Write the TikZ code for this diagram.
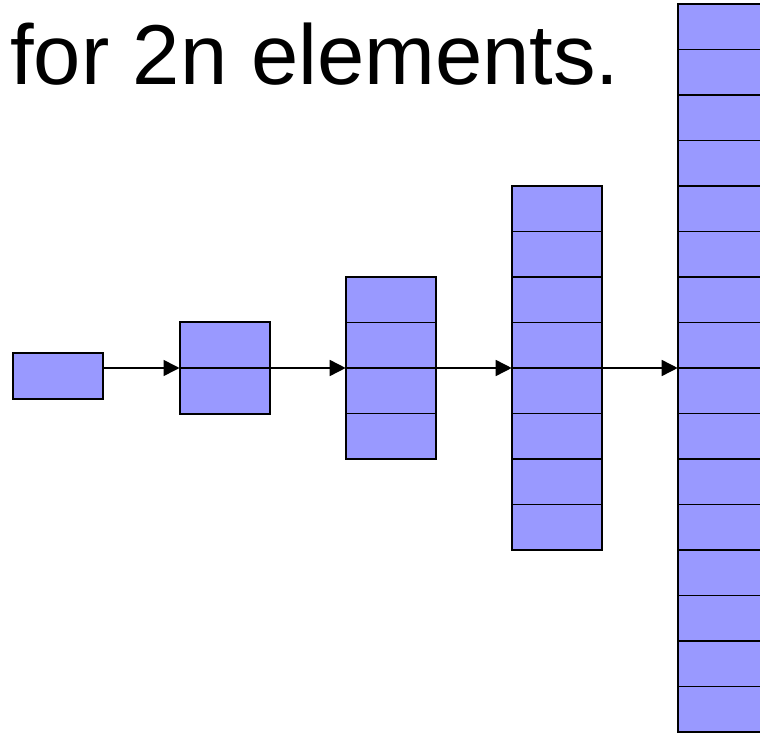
\documentclass[tikz,border=0pt]{standalone}
\usepackage{fontspec}
\setmainfont{Liberation Sans}
\usetikzlibrary{arrows.meta,calc}
\definecolor{cellblue}{RGB}{153,153,255}

\tikzset{
  cellbox/.style={draw, line width=2pt, fill=cellblue, minimum width=90.6pt, inner sep=0pt, outer sep=0pt},
  cellline/.style={line width=1.8pt},
  growarrow/.style={-{Triangle[length=16pt,width=16pt]}, line width=1.6pt}
}

\begin{document}
\begin{tikzpicture}[x=1pt,y=1pt]
\useasboundingbox (0,0) rectangle (760,732);
\clip (0,0) rectangle (760,732);
%\draw[help lines, color=gray!30] (0,0) grid[step=50] (760,732);
\node[anchor=base west, inner sep=0pt, font=\fontsize{85}{100}\selectfont] (title) at (10,647.5) {for 2n elements.};

% the arrays
\node[cellbox, minimum height=46pt] (a1) at (57.8,356.5) {};
\node[cellbox, minimum height=91pt] (a2) at (224.8,364) {};
\node[cellbox, minimum height=182pt] (a3) at (391,364) {};
\node[cellbox, minimum height=364pt] (a4) at (557,364) {};
\node[cellbox, minimum height=728pt] (a5) at (723,364) {};

\foreach \nm/\cnt in {a2/2,a3/4,a4/8,a5/16} {
  \pgfmathtruncatemacro\lastcell{\cnt-1}
  \foreach \i in {1,...,\lastcell}
    \draw[cellline] ($(\nm.north west)!\i/\cnt!(\nm.south west)$) -- ($(\nm.north east)!\i/\cnt!(\nm.south east)$);
}

% doubling steps
\draw[growarrow] (a1.east |- a2.center) -- (a2.west);
\draw[growarrow] (a2.east) -- (a3.west);
\draw[growarrow] (a3.east) -- (a4.west);
\draw[growarrow] (a4.east) -- (a5.west);
\end{tikzpicture}
\end{document}
